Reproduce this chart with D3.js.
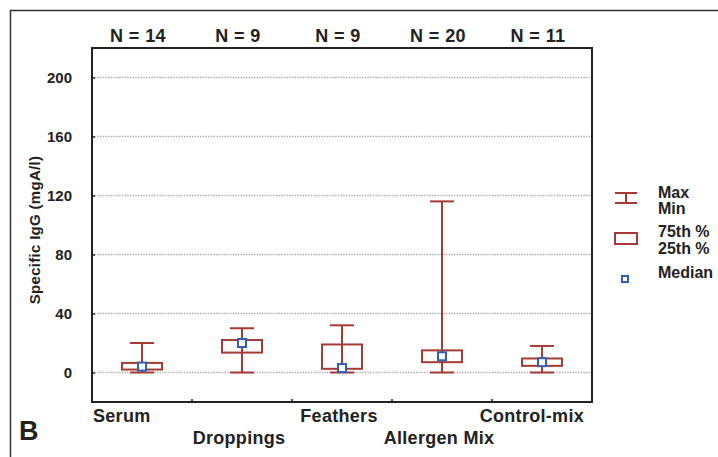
<!DOCTYPE html>
<html>
<head>
<meta charset="utf-8">
<style>
  body { margin: 0; background: #fff; }
  text { font-family: "Liberation Sans", Arial, sans-serif; font-weight: bold; fill: #222; }
</style>
</head>
<body>
<div id="chart"></div>
<script src="https://d3js.org/d3.v7.min.js"></script>
<script>
    const categories = ['Serum', 'Droppings', 'Feathers', 'Allergen Mix', 'Control-mix'];
    const nLabels = ['N = 14', 'N = 9', 'N = 9', 'N = 20', 'N = 11'];
    const maxVals = [20, 30, 32, 116, 18];
    const minVals = [0, 0, 0, 0, 0];
    const q75Vals = [6.5, 22, 19, 15, 9.5];
    const q25Vals = [2, 13.5, 2.5, 7, 4.5];
    const medianVals = [4, 20, 3, 11, 7];
    const yTicks = [0, 40, 80, 120, 160, 200];

    const boxColor = '#a63a35';
    const medColor = '#2f5fb0';

    const svg = d3.select('#chart')
        .append('svg')
        .attr('width', 718)
        .attr('height', 457);

    // outer frame (only left and top edges visible)
    svg.append('path')
        .attr('d', 'M10.5,457 V10.5 H718')
        .attr('fill', 'none')
        .attr('stroke', '#333')
        .attr('stroke-width', 1.5);

    const margin = { left: 92, top: 48, right: 592, bottom: 402 };

    const x = d3.scaleBand()
        .domain(categories)
        .range([margin.left, margin.right]);

    const y = d3.scaleLinear()
        .domain([-20, 220])
        .range([margin.bottom, margin.top]);

    // gridlines
    svg.selectAll('.grid')
        .data(yTicks)
        .enter()
        .append('line')
        .attr('x1', margin.left)
        .attr('x2', margin.right)
        .attr('y1', d => y(d))
        .attr('y2', d => y(d))
        .attr('stroke', '#b0b0b0')
        .attr('stroke-width', 1.3)
        .attr('stroke-dasharray', '1.5,1.2');

    // y axis
    const yAxis = d3.axisLeft(y).tickValues(yTicks).tickSize(-3).tickPadding(20);
    const gy = svg.append('g')
        .attr('transform', `translate(${margin.left},0)`)
        .call(yAxis);
    gy.select('.domain').remove();
    gy.selectAll('.tick line').attr('stroke', '#222').attr('stroke-width', 1.5);
    gy.selectAll('.tick text').style('font-size', '15px').attr('fill', '#222');

    // x axis ticks (at band boundaries)
    svg.selectAll('.xtick')
        .data(categories.slice(1))
        .enter()
        .append('line')
        .attr('x1', d => x(d))
        .attr('x2', d => x(d))
        .attr('y1', margin.bottom)
        .attr('y2', margin.bottom - 3)
        .attr('stroke', '#222')
        .attr('stroke-width', 1.5);

    // plot frame
    svg.append('rect')
        .attr('x', margin.left)
        .attr('y', margin.top)
        .attr('width', margin.right - margin.left)
        .attr('height', margin.bottom - margin.top)
        .attr('fill', 'none')
        .attr('stroke', '#222')
        .attr('stroke-width', 2);

    const boxW = 40;
    const capW = 24;

    categories.forEach((c, i) => {
        const cx = x(c) + x.bandwidth() / 2;
        const g = svg.append('g');
        g.append('line')
            .attr('x1', cx).attr('x2', cx)
            .attr('y1', y(maxVals[i])).attr('y2', y(minVals[i]))
            .attr('stroke', boxColor).attr('stroke-width', 2);
        [maxVals[i], minVals[i]].forEach(v => {
            g.append('line')
                .attr('x1', cx - capW / 2).attr('x2', cx + capW / 2)
                .attr('y1', y(v)).attr('y2', y(v))
                .attr('stroke', boxColor).attr('stroke-width', 2);
        });
        g.append('rect')
            .attr('x', cx - boxW / 2)
            .attr('y', y(q75Vals[i]))
            .attr('width', boxW)
            .attr('height', y(q25Vals[i]) - y(q75Vals[i]))
            .attr('fill', '#fff')
            .attr('stroke', boxColor).attr('stroke-width', 2);
        g.append('line')
            .attr('x1', cx).attr('x2', cx)
            .attr('y1', y(q75Vals[i])).attr('y2', y(q25Vals[i]))
            .attr('stroke', boxColor).attr('stroke-width', 2);
        g.append('rect')
            .attr('x', cx - 4)
            .attr('y', y(medianVals[i]) - 4)
            .attr('width', 8).attr('height', 8)
            .attr('fill', '#fff')
            .attr('stroke', medColor).attr('stroke-width', 2);
    });

    // N labels
    svg.selectAll('.nlab')
        .data(nLabels)
        .enter()
        .append('text')
        .attr('x', (d, i) => x(categories[i]) + x.bandwidth() / 2 - 4)
        .attr('y', 42)
        .attr('text-anchor', 'middle')
        .style('font-size', '18px')
        .style('letter-spacing', '0.4px')
        .text(d => d);

    // category labels, alternating rows
    svg.selectAll('.clab')
        .data(categories)
        .enter()
        .append('text')
        .attr('x', (d, i) => i === 0 ? margin.left + 1 :
            i === categories.length - 1 ? margin.right - 8 : x(d) + x.bandwidth() / 2 - 3)
        .attr('y', (d, i) => i % 2 === 0 ? 422 : 444)
        .attr('text-anchor', (d, i) => i === 0 ? 'start' : i === categories.length - 1 ? 'end' : 'middle')
        .style('font-size', '18px')
        .style('letter-spacing', '0.3px')
        .text(d => d);

    // y axis title
    svg.append('text')
        .attr('transform', 'translate(40,230) rotate(-90)')
        .attr('text-anchor', 'middle')
        .style('font-size', '15px')
        .style('letter-spacing', '0.3px')
        .text('Specific IgG (mgA/l)');

    // panel letter
    svg.append('text')
        .attr('x', 19)
        .attr('y', 440)
        .style('font-size', '27px')
        .text('B');

    // legend
    const lg = svg.append('g');
    lg.append('line').attr('x1', 626).attr('x2', 626).attr('y1', 193).attr('y2', 203)
        .attr('stroke', boxColor).attr('stroke-width', 2);
    [193, 203].forEach(yy => {
        lg.append('line').attr('x1', 615).attr('x2', 637).attr('y1', yy).attr('y2', yy)
            .attr('stroke', boxColor).attr('stroke-width', 2);
    });
    lg.append('rect').attr('x', 615).attr('y', 233).attr('width', 22).attr('height', 11)
        .attr('fill', '#fff').attr('stroke', boxColor).attr('stroke-width', 2);
    lg.append('rect').attr('x', 622).attr('y', 276).attr('width', 6).attr('height', 6)
        .attr('fill', '#fff').attr('stroke', medColor).attr('stroke-width', 2);
    const legendText = [['Max', 198], ['Min', 214], ['75th %', 237], ['25th %', 254], ['Median', 278]];
    legendText.forEach(([t, yy]) => {
        lg.append('text').attr('x', 658).attr('y', yy).style('font-size', '16px').text(t);
    });
</script>
</body>
</html>
